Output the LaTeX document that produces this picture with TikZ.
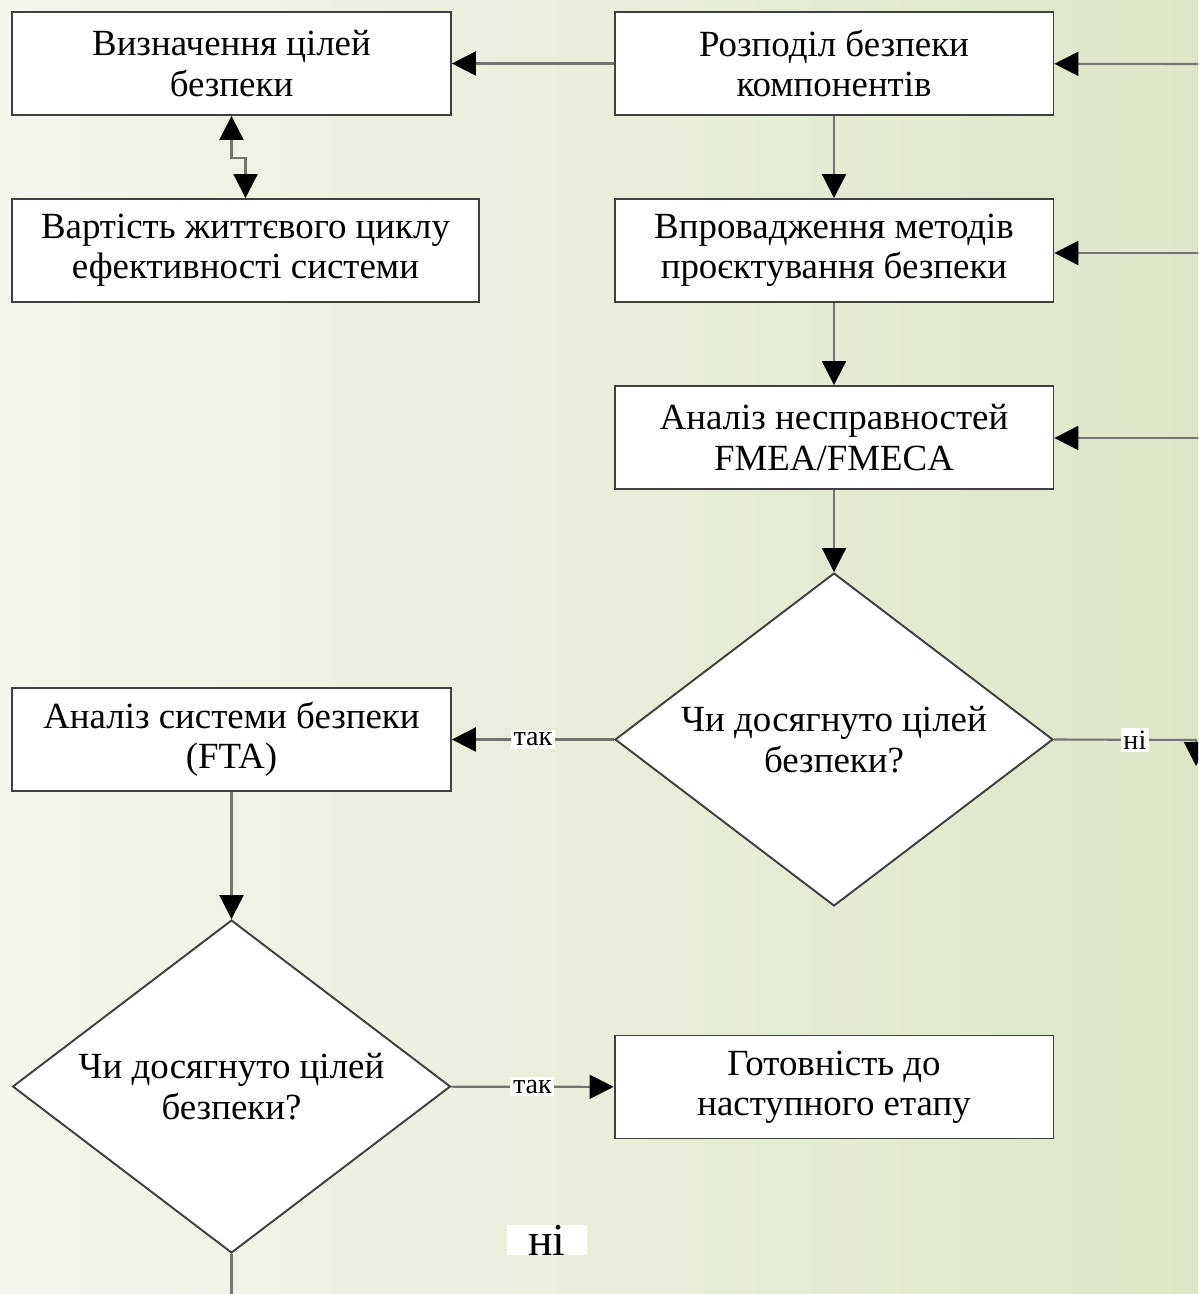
\documentclass[tikz,border=0pt]{standalone}
\usepackage{fontspec}
\setmainfont{Liberation Serif}
\usetikzlibrary{shapes.geometric,arrows.meta}
\tikzset{
	>={Triangle[length=0.48cm,width=0.48cm,color=black]},
	stage/.style={draw=black!75, fill=white, line width=1.1pt,
		minimum width=8.78cm, minimum height=2.06cm, align=center,
		font=\fontsize{21}{23}\selectfont},
	check/.style={stage, diamond, aspect=1.315, minimum width=8.76cm,
		minimum height=6.66cm, inner sep=0pt},
	flow/.style={draw=black!55, line width=1.2pt},
	answer/.style={fill=white, inner sep=1.5pt,
		font=\fontsize{16}{16}\selectfont}
}

\begin{document}
\begin{tikzpicture}[x=0.02cm, y=-0.02cm]
	\useasboundingbox (0,0) rectangle (1198,1294);
	\clip (0,0) rectangle (1198,1294);
	\shade [left color={rgb,255:red,244;green,245;blue,237},
		right color={rgb,255:red,221;green,231;blue,199}]
		(0,0) rectangle (1198,1294);

	\node [stage] (goals) at (231.5,63.5)
	{Визначення цілей\\безпеки};
	\node [stage, minimum width=9.34cm] (cost) at (245.5,250.5)
	{Вартість життєвого циклу\\ефективності системи};
	\node [stage] (alloc) at (834,63.5)
	{Розподіл безпеки\\компонентів};
	\node [stage] (design) at (834,250.5)
	{Впровадження методів\\проєктування безпеки};
	\node [stage] (fmea) at (834,437.5)
	{Аналіз несправностей\\FMEA/FMECA};
	\node [check] (check1) at (834,739.5)
	{Чи досягнуто цілей\\безпеки?};
	\node [stage] (fta) at (231.5,739.5)
	{Аналіз системи безпеки\\(FTA)};
	\node [check] (check2) at (231.5,1086.5)
	{Чи досягнуто цілей\\безпеки?};
	\node [stage] (ready) at (834,1087)
	{Готовність до\\наступного етапу};
	\node [answer, font=\fontsize{26}{26}\selectfont,
		minimum width=1.6cm, inner sep=0pt] (no2) at (547,1240) {ні};

	\coordinate (back1) at (1200,64);
	\coordinate (back2) at (1200,253);
	\coordinate (back3) at (1200,438);
	\coordinate (exit1) at (1196,740);
	\coordinate (exit2) at (1196,766);
	\coordinate (exit3) at (231.5,1300);

	\draw [flow, ->] (alloc) to (goals);
	\draw [flow, <->] (goals.south) -- ++(0,42) -| (cost.north);
	\draw [flow, ->] (back1) to (alloc);
	\draw [flow, ->] (back2) to (design.east |- back2);
	\draw [flow, ->] (back3) to (fmea.east |- back3);
	\draw [flow, ->] (alloc) to (design);
	\draw [flow, ->] (design) to (fmea);
	\draw [flow, ->] (fmea) to (check1);
	\draw [flow, ->] (check1) to
	node [answer] {так}
	(fta);
	\draw [flow, ->] (check1.east) --
	node [answer, pos=0.57] {ні}
	(exit1) -- (exit2);
	\draw [flow, ->] (fta) to (check2);
	\draw [flow, ->] (check2) to
	node [answer] {так}
	(ready);
	\draw [flow] (check2.south) -- (exit3);
\end{tikzpicture}
\end{document}
